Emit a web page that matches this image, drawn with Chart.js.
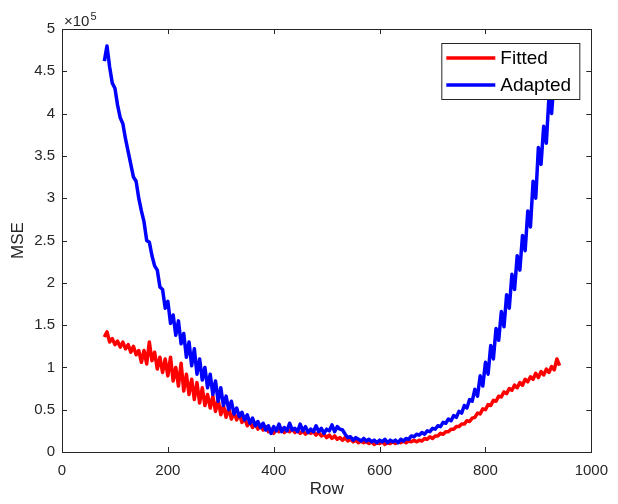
<!DOCTYPE html>
<html>
<head>
<meta charset="utf-8">
<script src="https://cdn.jsdelivr.net/npm/chart.js@4"></script>
<style>
  body { margin: 0; background: #fff; }
  canvas { display: block; }
</style>
</head>
<body>
<canvas id="mseChart" width="618" height="504"></canvas>
<script>
// rows sampled every 5 rows, from row 80 to row 940
const rowStart = 80;
const rowStep = 5;

// MSE values in units of 1e5 (axis shows x10^5)
const fittedMSE = [
  1.36, 1.42, 1.30, 1.34, 1.27, 1.31, 1.24, 1.30, 1.22, 1.27,
  1.18, 1.25, 1.15, 1.20, 1.06, 1.20, 1.04, 1.30, 1.08, 1.18,
  0.98, 1.12, 0.94, 1.10, 0.90, 1.12, 0.84, 1.00, 0.78, 1.05,
  0.72, 0.92, 0.68, 0.86, 0.62, 0.82, 0.58, 0.76, 0.55, 0.68,
  0.52, 0.66, 0.48, 0.62, 0.44, 0.55, 0.41, 0.52, 0.39, 0.47,
  0.38, 0.45, 0.35, 0.40, 0.31, 0.36, 0.29, 0.34, 0.27, 0.31,
  0.26, 0.30, 0.24, 0.27, 0.22, 0.27, 0.24, 0.28, 0.23, 0.26,
  0.24, 0.27, 0.23, 0.26, 0.22, 0.25, 0.21, 0.24, 0.22, 0.24,
  0.20, 0.23, 0.19, 0.21, 0.17, 0.20, 0.16, 0.19, 0.15, 0.17,
  0.14, 0.17, 0.13, 0.15, 0.12, 0.14, 0.11, 0.13, 0.11, 0.12,
  0.10, 0.12, 0.09, 0.11, 0.10, 0.12, 0.09, 0.11, 0.10, 0.12,
  0.10, 0.12, 0.11, 0.13, 0.11, 0.13, 0.12, 0.14, 0.12, 0.14,
  0.13, 0.16, 0.15, 0.18, 0.16, 0.19, 0.19, 0.22, 0.21, 0.24,
  0.24, 0.27, 0.27, 0.30, 0.30, 0.33, 0.33, 0.37, 0.36, 0.40,
  0.41, 0.46, 0.45, 0.51, 0.50, 0.56, 0.55, 0.61, 0.60, 0.66,
  0.65, 0.71, 0.69, 0.75, 0.73, 0.79, 0.76, 0.82, 0.79, 0.86,
  0.83, 0.89, 0.86, 0.93, 0.88, 0.95, 0.91, 0.98, 0.94, 1.01,
  0.97, 1.10, 1.02
];

const adaptedMSE = [
  4.62, 4.80, 4.55, 4.36, 4.30, 4.10, 3.95, 3.88, 3.70, 3.55,
  3.40, 3.25, 3.20, 3.00, 2.85, 2.72, 2.50, 2.48, 2.32, 2.20,
  2.15, 1.95, 1.92, 1.70, 1.78, 1.52, 1.62, 1.38, 1.55, 1.28,
  1.40, 1.12, 1.30, 1.02, 1.22, 0.92, 1.10, 0.85, 1.00, 0.76,
  0.92, 0.68, 0.84, 0.60, 0.76, 0.55, 0.66, 0.50, 0.60, 0.45,
  0.52, 0.42, 0.47, 0.38, 0.44, 0.34, 0.40, 0.31, 0.36, 0.29,
  0.34, 0.26, 0.31, 0.22, 0.30, 0.25, 0.33, 0.24, 0.29, 0.25,
  0.34, 0.26, 0.28, 0.24, 0.33, 0.25, 0.30, 0.23, 0.27, 0.24,
  0.31, 0.24, 0.28, 0.22, 0.27, 0.25, 0.32, 0.24, 0.30, 0.27,
  0.26, 0.21, 0.17, 0.18, 0.14, 0.17, 0.15, 0.13, 0.16, 0.13,
  0.15, 0.12, 0.14, 0.11, 0.14, 0.12, 0.15, 0.11, 0.14, 0.12,
  0.14, 0.11, 0.15, 0.13, 0.16, 0.15, 0.19, 0.18, 0.21, 0.20,
  0.23, 0.21, 0.25, 0.24, 0.28, 0.27, 0.31, 0.30, 0.35, 0.34,
  0.39, 0.37, 0.43, 0.41, 0.48, 0.46, 0.55, 0.52, 0.62, 0.60,
  0.74, 0.66, 0.90, 0.78, 1.06, 0.92, 1.26, 1.10, 1.46, 1.32,
  1.66, 1.48, 1.86, 1.70, 2.10, 1.92, 2.32, 2.15, 2.56, 2.38,
  2.85, 2.66, 3.20, 3.00, 3.60, 3.40, 3.85, 3.65, 4.20, 4.00,
  4.45, 4.28, 4.58
];

const xTicks = [0, 200, 400, 600, 800, 1000];
const yTicks = [0, 0.5, 1, 1.5, 2, 2.5, 3, 3.5, 4, 4.5, 5];

const axisColor = '#262626';
const fontFamily = '"Liberation Sans", Arial, sans-serif';

function toPoints(values) {
  return values.map((v, i) => ({ x: rowStart + i * rowStep, y: v }));
}

// MATLAB-like frame, inward ticks, inner legend and the x10^5 exponent
const matlabAxes = {
  id: 'matlabAxes',
  afterDraw(chart) {
    const { ctx, chartArea: a, scales } = chart;
    ctx.save();
    ctx.strokeStyle = axisColor;
    ctx.lineWidth = 1;
    ctx.strokeRect(Math.round(a.left) + 0.5, Math.round(a.top) + 0.5,
      Math.round(a.right - a.left), Math.round(a.bottom - a.top));

    const tl = 5;
    ctx.beginPath();
    xTicks.forEach(t => {
      const px = Math.round(scales.x.getPixelForValue(t)) + 0.5;
      ctx.moveTo(px, a.bottom); ctx.lineTo(px, a.bottom - tl);
      ctx.moveTo(px, a.top); ctx.lineTo(px, a.top + tl);
    });
    yTicks.forEach(t => {
      const py = Math.round(scales.y.getPixelForValue(t)) + 0.5;
      ctx.moveTo(a.left, py); ctx.lineTo(a.left + tl, py);
      ctx.moveTo(a.right, py); ctx.lineTo(a.right - tl, py);
    });
    ctx.stroke();

    // exponent label
    ctx.fillStyle = axisColor;
    ctx.textBaseline = 'alphabetic';
    ctx.textAlign = 'left';
    ctx.font = '15px ' + fontFamily;
    ctx.fillText('\u00d710', a.left + 2, a.top - 3);
    const w = ctx.measureText('\u00d710').width;
    ctx.font = '11px ' + fontFamily;
    ctx.fillText('5', a.left + 2 + w + 1, a.top - 9);

    // legend box
    const lx = a.right - 150, ly = a.top + 14, lw = 138, lh = 56;
    ctx.fillStyle = '#fff';
    ctx.fillRect(lx, ly, lw, lh);
    ctx.strokeStyle = axisColor;
    ctx.strokeRect(lx + 0.5, ly + 0.5, lw, lh);
    ctx.font = '19px ' + fontFamily;
    ctx.textBaseline = 'middle';
    chart.data.datasets.forEach((ds, i) => {
      const yy = ly + 15 + i * 27;
      ctx.strokeStyle = ds.borderColor;
      ctx.lineWidth = 3.5;
      ctx.beginPath();
      ctx.moveTo(lx + 5, yy); ctx.lineTo(lx + 54, yy);
      ctx.stroke();
      ctx.fillStyle = '#000';
      ctx.fillText(ds.label, lx + 59, yy + 1);
    });
    ctx.restore();
  }
};

const ctx = document.getElementById('mseChart').getContext('2d');
const mseChart = new Chart(ctx, {
  type: 'line',
  data: {
    datasets: [{
      label: 'Fitted',
      data: toPoints(fittedMSE),
      borderColor: '#ff0000',
      borderWidth: 3.5,
      pointRadius: 0,
      borderJoinStyle: 'round',
      order: 1
    },
    {
      label: 'Adapted',
      data: toPoints(adaptedMSE),
      borderColor: '#0000ff',
      borderWidth: 3.5,
      pointRadius: 0,
      borderJoinStyle: 'round',
      order: 0
    }]
  },
  options: {
    responsive: false,
    animation: false,
    layout: {
      padding: { top: 29, right: 20, left: 0, bottom: 0 }
    },
    plugins: {
      legend: { display: false },
      tooltip: { enabled: false }
    },
    scales: {
      x: {
        type: 'linear',
        min: 0,
        max: 1000,
        afterFit: s => { s.height = 52; },
        afterBuildTicks: s => { s.ticks = xTicks.map(v => ({ value: v })); },
        grid: { display: false, drawTicks: false },
        border: { display: false },
        ticks: {
          padding: 10,
          color: axisColor,
          font: { family: fontFamily, size: 15 },
          callback: v => String(v)
        },
        title: {
          display: true,
          text: 'Row',
          color: axisColor,
          padding: { top: 4, bottom: 4 },
          font: { family: fontFamily, size: 17 }
        }
      },
      y: {
        min: 0,
        max: 5,
        afterFit: s => { s.width = 62; },
        afterBuildTicks: s => { s.ticks = yTicks.map(v => ({ value: v })); },
        grid: { display: false, drawTicks: false },
        border: { display: false },
        ticks: {
          padding: 7,
          color: axisColor,
          font: { family: fontFamily, size: 15 },
          callback: v => String(v)
        },
        title: {
          display: true,
          text: 'MSE',
          color: axisColor,
          padding: { top: 8, bottom: 4 },
          font: { family: fontFamily, size: 17 }
        }
      }
    }
  },
  plugins: [matlabAxes]
});
</script>
</body>
</html>
